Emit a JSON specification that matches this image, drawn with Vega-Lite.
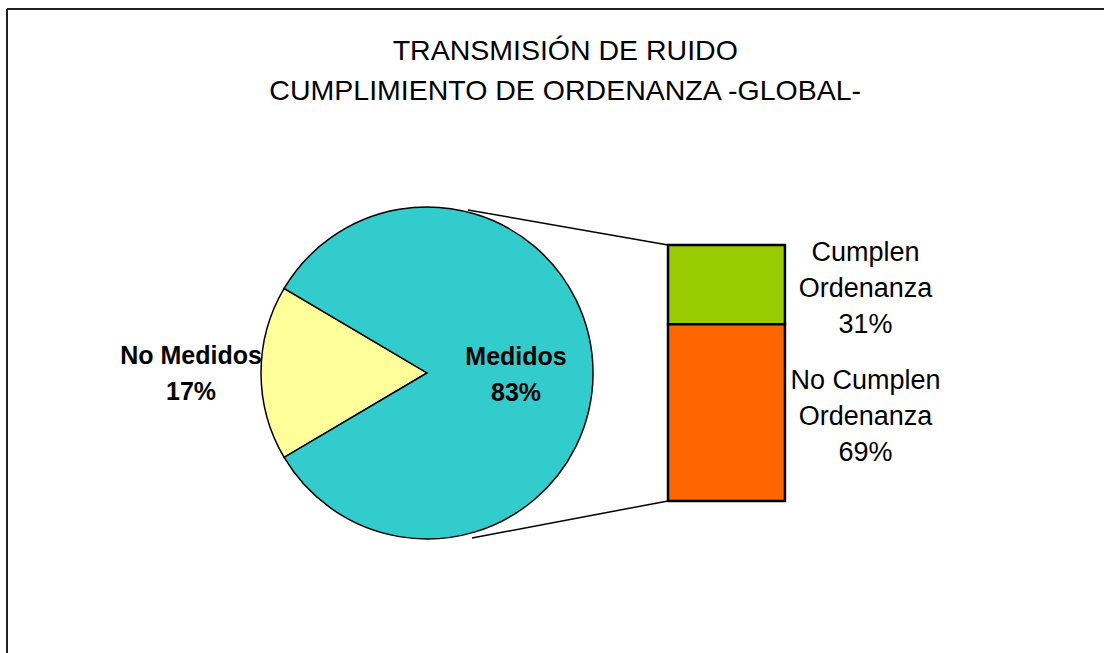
{
  "$schema": "https://vega.github.io/schema/vega-lite/v6.json",
  "width": 1104,
  "height": 653,
  "autosize": {"type": "none"},
  "padding": 0,
  "background": "white",
  "config": {
    "view": {"stroke": null},
    "font": "Liberation Sans",
    "text": {"font": "Liberation Sans", "lineBreak": "\n", "color": "black"}
  },
  "datasets": {
    "pie": [
      {"grupo": "No Medidos", "pct": 17, "etiqueta": "No Medidos\n17%"},
      {"grupo": "Medidos", "pct": 83, "etiqueta": "Medidos\n83%"}
    ],
    "bar": [
      {"grupo": "Cumplen Ordenanza", "pct": 31, "etiqueta": "Cumplen\nOrdenanza\n31%"},
      {"grupo": "No Cumplen Ordenanza", "pct": 69, "etiqueta": "No Cumplen\nOrdenanza\n69%"}
    ],
    "one": [{}]
  },
  "layer": [
    {
      "data": {"name": "one"},
      "mark": {"type": "rule", "stroke": "#222222", "strokeWidth": 2},
      "encoding": {
        "x": {"datum": 0.634, "type": "quantitative", "scale": {"domain": [0, 100], "nice": false, "zero": false}, "axis": null},
        "x2": {"datum": 100},
        "y": {"datum": 192.2, "type": "quantitative", "scale": {"domain": [-59.4, 195.7], "nice": false, "zero": false}, "axis": null}
      }
    },
    {
      "data": {"name": "one"},
      "mark": {"type": "rule", "stroke": "#222222", "strokeWidth": 2},
      "encoding": {
        "x": {"datum": 0.634, "type": "quantitative"},
        "y": {"datum": 192.2, "type": "quantitative"},
        "y2": {"datum": -59.4}
      }
    },
    {
      "data": {"name": "one"},
      "mark": {"type": "rule", "stroke": "black", "strokeWidth": 1.5},
      "encoding": {
        "x": {"datum": 42.39, "type": "quantitative"},
        "x2": {"datum": 60.51},
        "y": {"datum": 113.7, "type": "quantitative"},
        "y2": {"datum": 100}
      }
    },
    {
      "data": {"name": "one"},
      "mark": {"type": "rule", "stroke": "black", "strokeWidth": 1.5},
      "encoding": {
        "x": {"datum": 42.75, "type": "quantitative"},
        "x2": {"datum": 60.51},
        "y": {"datum": -14.45, "type": "quantitative"},
        "y2": {"datum": 0}
      }
    },
    {
      "data": {"name": "pie"},
      "mark": {"type": "arc", "outerRadius": 166, "stroke": "black", "strokeWidth": 1.5},
      "encoding": {
        "theta": {"field": "pct", "type": "quantitative", "stack": true, "scale": {"range": [4.1783, 10.4615]}},
        "order": {"field": "pct", "sort": "ascending"},
        "color": {
          "field": "grupo", "type": "nominal", "legend": null,
          "scale": {
            "domain": ["No Medidos", "Medidos", "Cumplen Ordenanza", "No Cumplen Ordenanza"],
            "range": ["#FFFF99", "#33CCCC", "#99CC00", "#FF6600"]
          }
        },
        "x": {"datum": 38.68, "type": "quantitative"},
        "y": {"datum": 50, "type": "quantitative"}
      }
    },
    {
      "data": {"name": "pie"},
      "mark": {"type": "text", "radius": 89, "fontSize": 25, "fontWeight": "bold", "lineHeight": 36, "align": "center", "baseline": "middle", "dy": -16},
      "encoding": {
        "theta": {"field": "pct", "type": "quantitative", "stack": true},
        "order": {"field": "pct", "sort": "ascending"},
        "text": {"condition": {"test": "datum.grupo == 'Medidos'", "field": "etiqueta"}, "value": ""},
        "x": {"datum": 38.68, "type": "quantitative"},
        "y": {"datum": 50, "type": "quantitative"}
      }
    },
    {
      "data": {"name": "pie"},
      "mark": {"type": "text", "radius": 236, "fontSize": 25, "fontWeight": "bold", "lineHeight": 36, "align": "center", "baseline": "middle", "dy": -17},
      "encoding": {
        "theta": {"field": "pct", "type": "quantitative", "stack": true},
        "order": {"field": "pct", "sort": "ascending"},
        "text": {"condition": {"test": "datum.grupo == 'No Medidos'", "field": "etiqueta"}, "value": ""},
        "x": {"datum": 38.68, "type": "quantitative"},
        "y": {"datum": 50, "type": "quantitative"}
      }
    },
    {
      "data": {"name": "bar"},
      "transform": [
        {"stack": "pct", "groupby": [], "sort": [{"field": "pct", "order": "descending"}], "as": ["v0", "v1"]}
      ],
      "mark": {"type": "bar", "stroke": "black", "strokeWidth": 2.5},
      "encoding": {
        "x": {"datum": 60.51, "type": "quantitative"},
        "x2": {"datum": 71.1},
        "y": {"field": "v0", "type": "quantitative"},
        "y2": {"field": "v1"},
        "color": {"field": "grupo", "type": "nominal", "legend": null}
      }
    },
    {
      "data": {"name": "bar"},
      "transform": [
        {"stack": "pct", "groupby": [], "sort": [{"field": "pct", "order": "descending"}], "as": ["v0", "v1"]},
        {"fold": ["v0", "v1"], "as": ["borde", "pos"]},
        {"aggregate": [{"op": "mean", "field": "pos", "as": "centro"}], "groupby": ["grupo", "etiqueta"]}
      ],
      "mark": {"type": "text", "fontSize": 27, "lineHeight": 36, "align": "center", "baseline": "middle", "dy": -32},
      "encoding": {
        "x": {"datum": 78.4, "type": "quantitative"},
        "y": {"field": "centro", "type": "quantitative"},
        "text": {"field": "etiqueta"}
      }
    },
    {
      "data": {"name": "one"},
      "mark": {"type": "text", "fontSize": 28.5, "lineHeight": 40, "align": "center", "baseline": "middle"},
      "encoding": {
        "x": {"datum": 51.2, "type": "quantitative"},
        "y": {"datum": 175.9, "type": "quantitative"},
        "text": {"datum": "TRANSMISIÓN DE RUIDO\nCUMPLIMIENTO DE ORDENANZA -GLOBAL-"}
      }
    }
  ]
}
